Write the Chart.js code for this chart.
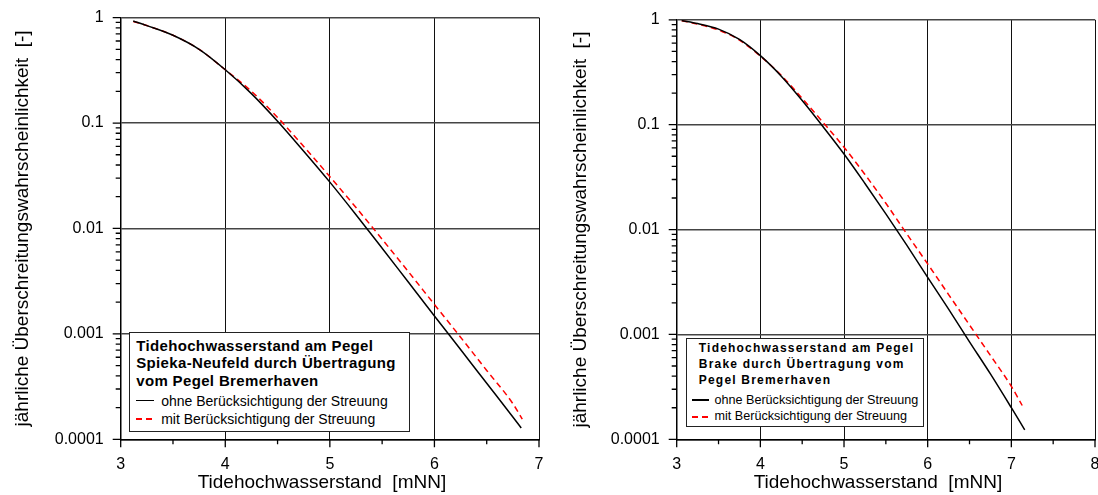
<!DOCTYPE html>
<html>
<head>
<meta charset="utf-8">
<script src="https://cdn.jsdelivr.net/npm/chart.js@4.4.1/dist/chart.umd.min.js"></script>
<style>
  html, body { margin: 0; padding: 0; background: #fff; overflow: hidden; width: 1098px; height: 495px; }
  canvas { position: absolute; top: 0; }
  #c1 { left: 0; }
  #c2 { left: 556px; }
  .legend { position: absolute; background: #fff; border: 1.5px solid #222; box-sizing: border-box;
            font-family: 'Liberation Sans', Arial, sans-serif; color: #000; }
  .legend .ttl { position: absolute; font-weight: bold; white-space: nowrap; }
  .legend .row { position: absolute; white-space: nowrap; }
  .legend .smp { position: absolute; height: 1.5px; }
</style>
</head>
<body>
<canvas id="c1" width="560" height="495"></canvas>
<canvas id="c2" width="560" height="495"></canvas>
<div class="legend" id="lg1"></div>
<div class="legend" id="lg2"></div>
<script>
// Spieka-Neufeld (left)
const spiekaX_ohne = [3.12, 3.25, 3.5, 3.75, 4.0, 4.25, 4.5, 4.75, 5.0, 5.25, 5.5, 5.75, 6.0, 6.25, 6.5, 6.75, 6.83];
const spiekaP_ohne = [0.93, 0.84, 0.68, 0.50, 0.32, 0.19, 0.104, 0.054, 0.0275, 0.0135, 0.0065, 0.0031, 0.00148, 0.00071, 0.00034, 0.000163, 0.000128];
const spiekaX_mit  = [3.12, 3.25, 3.5, 3.75, 4.0, 4.25, 4.5, 4.75, 5.0, 5.25, 5.5, 5.75, 6.0, 6.25, 6.5, 6.75, 6.84];
const spiekaP_mit  = [0.92, 0.84, 0.68, 0.50, 0.32, 0.20, 0.113, 0.060, 0.031, 0.0158, 0.0079, 0.0039, 0.0019, 0.00093, 0.00045, 0.000218, 0.000155];

// Brake (right)
const brakeX_ohne = [3.06, 3.25, 3.5, 3.75, 4.0, 4.25, 4.5, 4.75, 5.0, 5.25, 5.5, 5.75, 6.0, 6.25, 6.5, 6.75, 7.0, 7.16];
const brakeP_ohne = [0.985, 0.92, 0.815, 0.65, 0.455, 0.29, 0.17, 0.0955, 0.0525, 0.0275, 0.0141, 0.0071, 0.0035, 0.00174, 0.00085, 0.00042, 0.0002, 0.000123];
const brakeX_mit  = [3.06, 3.25, 3.5, 3.75, 4.0, 4.25, 4.5, 4.75, 5.0, 5.25, 5.5, 5.75, 6.0, 6.25, 6.5, 6.75, 7.0, 7.13];
const brakeP_mit  = [0.98, 0.91, 0.80, 0.64, 0.45, 0.295, 0.178, 0.105, 0.061, 0.0335, 0.0178, 0.0091, 0.0047, 0.0024, 0.00123, 0.00063, 0.00032, 0.00021];

// axes
const yDecades = [0.0001, 0.001, 0.01, 0.1, 1];
const yMinorSteps = [2, 3, 4, 5, 6, 7, 8, 9];
const xMin = 3;
const xMaxLeft = 7;
const xMaxRight = 8;

const xTitle = 'Tidehochwasserstand  [mNN]\u00a0\u00a0\u00a0';
const yTitle = 'jährliche Überschreitungswahrscheinlichkeit  [-]';
const labelOhne = 'ohne Berücksichtigung der Streuung';
const labelMit = 'mit Berücksichtigung der Streuung';
const titleSpieka = ['Tidehochwasserstand am Pegel', 'Spieka-Neufeld durch Übertragung', 'vom Pegel Bremerhaven'];
const titleBrake = ['Tidehochwasserstand am Pegel', 'Brake durch Übertragung vom', 'Pegel Bremerhaven'];

Chart.defaults.font.family = "'Liberation Sans', Arial, sans-serif";
Chart.defaults.color = '#000';

const yTicks = [];
yDecades.forEach(d => {
  yTicks.push(d);
  if (d < 1) yMinorSteps.forEach(m => yTicks.push(+(d * m).toPrecision(3)));
});
yTicks.sort((a, b) => a - b);

const pts = (xs, ys) => xs.map((x, i) => ({ x: x, y: ys[i] }));

// outside tick marks: long at labelled values, short at minor ones
const tickMarks = {
  id: 'tickMarks',
  afterDraw(chart) {
    const ctx = chart.ctx;
    const xs = chart.scales.x;
    const ys = chart.scales.y;
    const area = chart.chartArea;
    ctx.save();
    ctx.strokeStyle = '#000';
    ctx.lineWidth = 1.3;
    ctx.beginPath();
    xs.ticks.forEach(t => {
      const px = xs.getPixelForValue(t.value);
      const len = Number.isInteger(t.value) ? 8 : 5;
      ctx.moveTo(px, area.bottom);
      ctx.lineTo(px, area.bottom + len);
    });
    ys.ticks.forEach(t => {
      const py = ys.getPixelForValue(t.value);
      const len = yDecades.includes(t.value) ? 8 : 5;
      ctx.moveTo(area.left, py);
      ctx.lineTo(area.left - len, py);
    });
    ctx.stroke();
    ctx.restore();
  }
};

const makeChart = (id, xMax, top, yTitlePad, ohne, mit) => {
  return new Chart(document.getElementById(id), {
    type: 'line',
    data: {
      datasets: [
        { label: labelOhne, data: ohne, borderColor: '#000', borderWidth: 1.5,
          pointRadius: 0, cubicInterpolationMode: 'monotone', fill: false },
        { label: labelMit, data: mit, borderColor: '#ff0000', borderWidth: 1.5, borderDash: [6, 4],
          pointRadius: 0, cubicInterpolationMode: 'monotone', fill: false }
      ]
    },
    plugins: [tickMarks],
    options: {
      responsive: false,
      animation: false,
      layout: { padding: { top: top, right: 21, bottom: 0, left: 0 } },
      plugins: { legend: { display: false }, tooltip: { enabled: false } },
      scales: {
        x: {
          type: 'linear', min: xMin, max: xMax,
          afterFit: s => { s.height = 55.7; },
          border: { color: '#000', width: 1.5 },
          grid: {
            color: c => Number.isInteger(c.tick.value) ? '#111' : 'rgba(0,0,0,0)',
            tickColor: 'rgba(0,0,0,0)', tickLength: 8, lineWidth: 1
          },
          ticks: { stepSize: 0.5, autoSkip: false, maxRotation: 0, padding: 8,
                   font: { size: 16 },
                   callback: v => Number.isInteger(v) ? String(v) : '' },
          title: { display: true, text: xTitle, font: { size: 19 }, padding: { top: 0, bottom: 1 } }
        },
        y: {
          type: 'logarithmic', min: 0.0001, max: 1,
          afterFit: s => { s.width = 120.7; },
          afterBuildTicks: s => { s.ticks = yTicks.map(v => ({ value: v })); },
          border: { color: '#000', width: 1.5 },
          grid: {
            color: c => yDecades.includes(c.tick.value) ? '#444' : 'rgba(0,0,0,0)',
            tickColor: 'rgba(0,0,0,0)', tickLength: 9, lineWidth: 1.5
          },
          ticks: { autoSkip: false, padding: 8, font: { size: 16 },
                   callback: v => yDecades.includes(v) ? String(v) : '' },
          title: { display: true, text: yTitle, font: { size: 19 }, padding: { top: yTitlePad, bottom: 0 } }
        }
      }
    }
  });
};

makeChart('c1', xMaxLeft, 17.5, 11, pts(spiekaX_ohne, spiekaP_ohne), pts(spiekaX_mit, spiekaP_mit));
makeChart('c2', xMaxRight, 19.8, 13, pts(brakeX_ohne, brakeP_ohne), pts(brakeX_mit, brakeP_mit));

// legend boxes inside the plots
const buildLegend = (id, box, t, r) => {
  const el = document.getElementById(id);
  Object.assign(el.style, { left: box.l + 'px', top: box.t + 'px', width: box.w + 'px', height: box.h + 'px' });
  t.lines.forEach((line, i) => {
    const d = document.createElement('div');
    d.className = 'ttl';
    d.textContent = line;
    Object.assign(d.style, { left: t.x + 'px', top: (t.y + i * t.lh) + 'px', fontSize: t.size + 'px',
                             lineHeight: t.lh + 'px', letterSpacing: t.ls + 'px' });
    el.appendChild(d);
  });
  [[labelOhne, 'solid'], [labelMit, 'dash']].forEach(([txt, kind], i) => {
    const top = r.y + i * r.lh;
    const s = document.createElement('div');
    s.className = 'smp';
    s.style.left = r.sx + 'px';
    s.style.width = r.sw + 'px';
    s.style.top = (top + r.lh / 2 - 0.75) + 'px';
    s.style.background = kind === 'solid' ? '#000'
      : 'repeating-linear-gradient(90deg, #ff0000 0 6px, rgba(0,0,0,0) 6px 10px)';
    el.appendChild(s);
    const d = document.createElement('div');
    d.className = 'row';
    d.textContent = txt;
    Object.assign(d.style, { left: r.tx + 'px', top: top + 'px', fontSize: r.size + 'px', lineHeight: r.lh + 'px' });
    el.appendChild(d);
  });
};

buildLegend('lg1', { l: 128.5, t: 332, w: 281.5, h: 100 },
  { lines: titleSpieka, x: 6.7, y: 3.8, lh: 17.5, size: 15, ls: 0.35 },
  { y: 58.5, lh: 18.3, sx: 6.7, sw: 18.3, tx: 31.7, size: 14 });
buildLegend('lg2', { l: 686, t: 338.3, w: 237.7, h: 89 },
  { lines: titleBrake, x: 11.8, y: 1.2, lh: 16, size: 12, ls: 1.2 },
  { y: 52.6, lh: 16.6, sx: 5.2, sw: 16.6, tx: 27.5, size: 12.6 });
</script>
</body>
</html>
